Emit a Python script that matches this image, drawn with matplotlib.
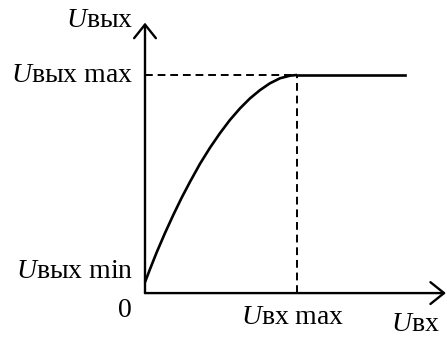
import matplotlib
matplotlib.use('Agg')
import matplotlib.pyplot as plt

# transfer characteristic of the stage (normalised: Uвх max = 1, Uвых max = 1)
u_in = [0.0, 0.033, 0.077, 0.132, 0.186, 0.241, 0.296, 0.362, 0.428, 0.493,
        0.559, 0.625, 0.691, 0.757, 0.822, 0.888, 0.954, 1.0]
u_out = [0.05, 0.110, 0.187, 0.276, 0.358, 0.437, 0.510, 0.593, 0.667, 0.733,
         0.794, 0.847, 0.893, 0.931, 0.962, 0.985, 0.997, 1.0]
u_in_max = 1.0
u_out_max = 1.0
u_in_end = 1.71          # where the saturated part stops
axis_x_end = 1.98
axis_y_end = 1.24

plt.rcParams['font.family'] = ['Liberation Serif', 'DejaVu Serif']
plt.rcParams['mathtext.fontset'] = 'custom'
plt.rcParams['mathtext.rm'] = 'Liberation Serif'
plt.rcParams['mathtext.it'] = 'Liberation Serif:italic'

fig = plt.figure(figsize=(4.47, 3.38), dpi=100)
ax = fig.add_axes([0, 0, 1, 1])
ax.set_xlim(-0.954, 1.987)
ax.set_ylim(-0.206, 1.344)
ax.axis('off')

# coordinate axes with open arrow heads
arrow = dict(arrowstyle='->,head_length=0.35,head_width=0.28', lw=1.7,
             color='black', mutation_scale=28, shrinkA=0, shrinkB=0)
ax.annotate('', xy=(axis_x_end, 0), xytext=(0, 0), arrowprops=arrow)
ax.annotate('', xy=(0, axis_y_end), xytext=(0, 0), arrowprops=arrow)

# characteristic and saturation
ax.plot(u_in, u_out, color='black', lw=1.9, solid_capstyle='butt',
        solid_joinstyle='round')
ax.plot([u_in_max, u_in_end], [u_out_max, u_out_max], color='black', lw=1.9)

# guide lines
ax.plot([0, u_in_max], [u_out_max, u_out_max], color='black', lw=1.4,
        dashes=(4, 2.5))
ax.plot([u_in_max, u_in_max], [0, u_out_max], color='black', lw=1.4,
        dashes=(4, 2.5))

fs = 20
ax.text(-0.08, 1.25, '$U$вых', ha='right', va='center', fontsize=fs)
ax.text(-0.08, u_out_max, '$U$вых max', ha='right', va='center', fontsize=fs)
ax.text(-0.08, u_out[0] + 0.05, '$U$вых min', ha='right', va='center', fontsize=fs)
ax.text(-0.13, -0.08, '0', ha='center', va='center', fontsize=fs)
ax.text(u_in_max - 0.03, -0.11, '$U$вх max', ha='center', va='center', fontsize=fs)
ax.text(1.78, -0.145, '$U$вх', ha='center', va='center', fontsize=fs)

fig.savefig('out.png', dpi=100)
